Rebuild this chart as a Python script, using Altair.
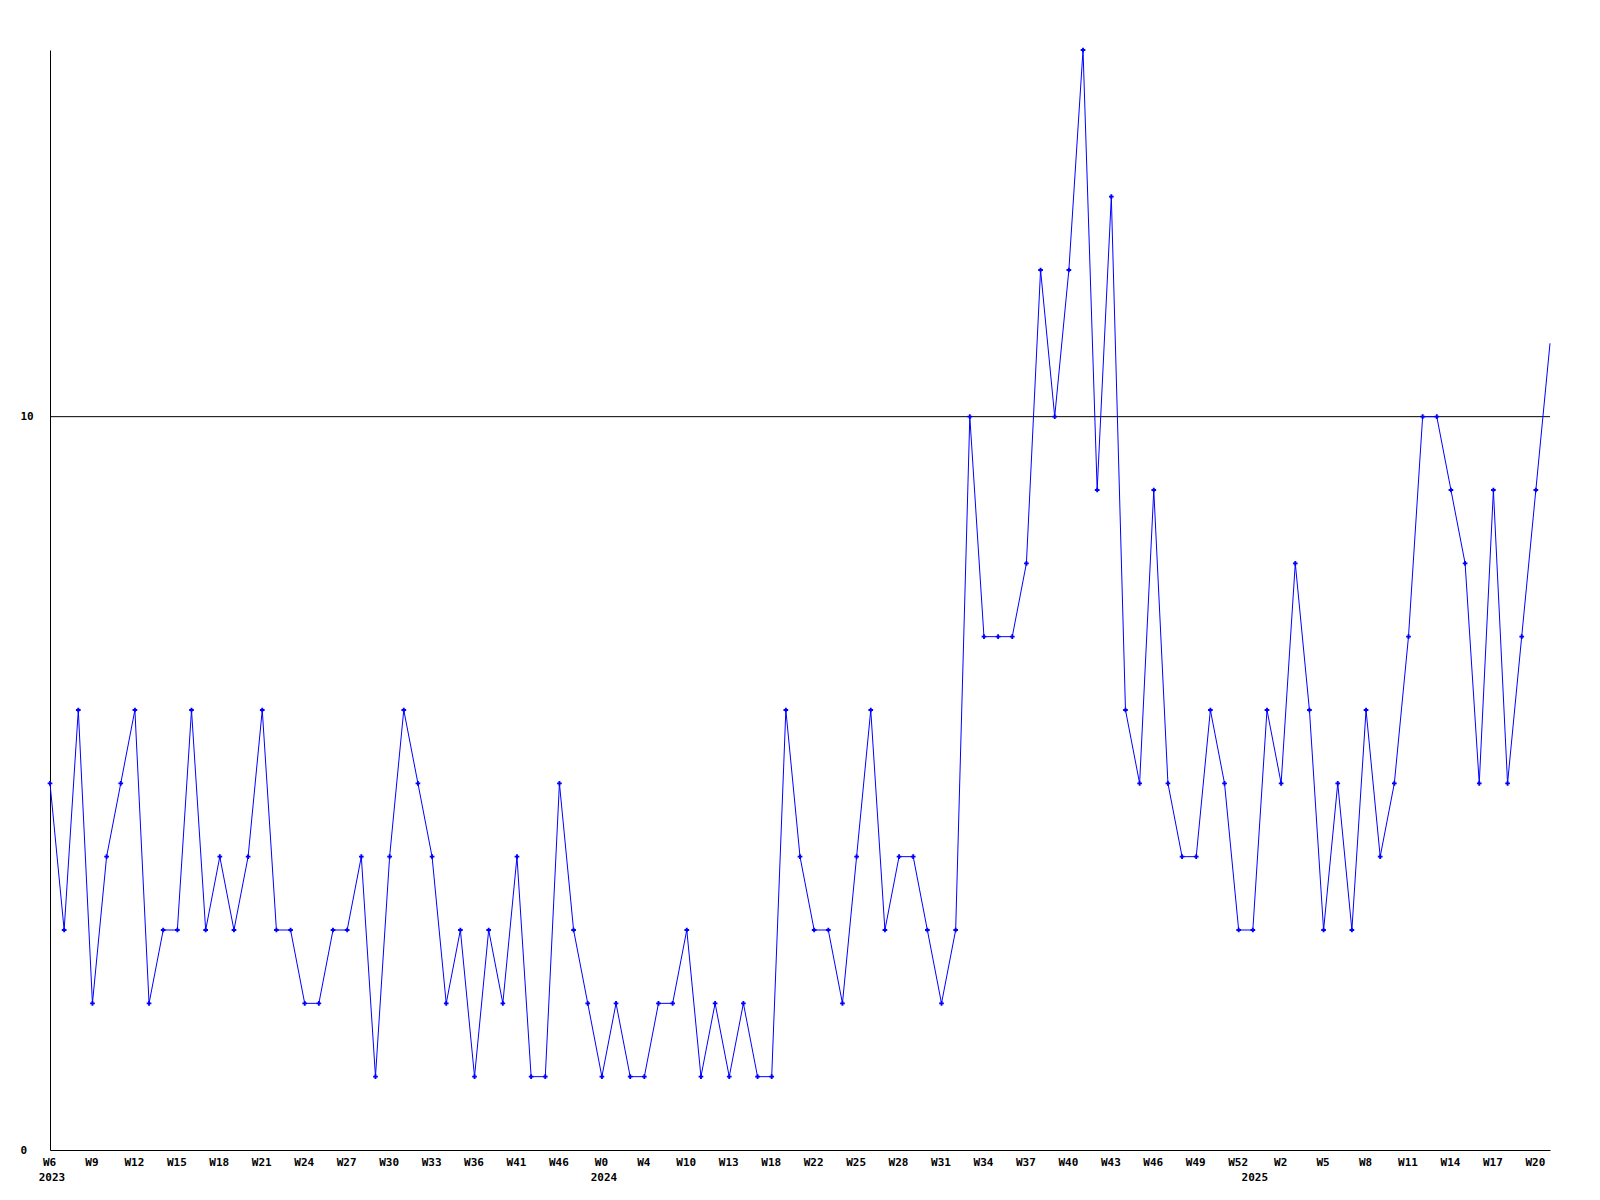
import altair as alt
import pandas as pd

# weekly values, one per point (107 points)
values = [5, 3, 6, 2, 4, 5, 6, 2, 3, 3, 6, 3, 4, 3, 4, 6, 3, 3, 2, 2,
          3, 3, 4, 1, 4, 6, 5, 4, 2, 3, 1, 3, 2, 4, 1, 1, 5, 3, 2, 1,
          2, 1, 1, 2, 2, 3, 1, 2, 1, 2, 1, 1, 6, 4, 3, 3, 2, 4, 6, 3,
          4, 4, 3, 2, 3, 10, 7, 7, 7, 8, 12, 10, 12, 15, 9, 13, 6, 5, 9, 5,
          4, 4, 6, 5, 3, 3, 6, 5, 8, 6, 3, 5, 3, 6, 4, 5, 7, 10, 10, 9,
          8, 5, 9, 5, 7, 9, 11]

# tick labels, one for every third point
tick_labels = ["W6", "W9", "W12", "W15", "W18", "W21", "W24", "W27", "W30", "W33",
               "W36", "W41", "W46", "W0", "W4", "W10", "W13", "W18", "W22", "W25",
               "W28", "W31", "W34", "W37", "W40", "W43", "W46", "W49", "W52", "W2",
               "W5", "W8", "W11", "W14", "W17", "W20"]
tick_step = 3

# year labels and the point index they sit under
years = ["2023", "2024", "2025"]
year_idx = [0, 39, 85]

threshold = 10

df = pd.DataFrame({"idx": list(range(len(values))), "value": values})
df_years = pd.DataFrame({"idx": year_idx, "year": years})

FONT = "DejaVu Sans Mono"
n = len(values) - 1

xscale = alt.Scale(domain=[0, n], nice=False, zero=False)
yscale = alt.Scale(domain=[0, 15], nice=False)

label_arr = "[" + ",".join("'%s'" % t for t in tick_labels) + "]"

x_axis = alt.Axis(
    values=[i * tick_step for i in range(len(tick_labels))],
    labelExpr=label_arr + "[round(datum.value/%d)]" % tick_step,
    ticks=False, tickSize=0, grid=False, title=None,
    domainColor="black", domainWidth=1,
    labelFont=FONT, labelFontWeight="bold", labelFontSize=11, labelColor="black",
    labelPadding=6, labelAngle=0, labelAlign="center", labelOverlap=False,
    labelFlush=False, labelOffset=-1,
)
y_axis = alt.Axis(
    values=[0, threshold], format="d", ticks=False, tickSize=0, grid=False, title=None,
    domainColor="black", domainWidth=1,
    labelFont=FONT, labelFontWeight="bold", labelFontSize=11, labelColor="black",
    labelAlign="left", labelPadding=30, labelBaseline="middle",
)

base = alt.Chart(df)

line = base.mark_line(color="#0000ff", strokeWidth=1).encode(
    x=alt.X("idx:Q", scale=xscale, axis=x_axis),
    y=alt.Y("value:Q", scale=yscale, axis=y_axis),
)

points = base.transform_filter(alt.datum.idx < n).mark_point(
    shape="cross", filled=True, size=22, color="#0000ff", opacity=1
).encode(
    x=alt.X("idx:Q", scale=xscale),
    y=alt.Y("value:Q", scale=yscale),
)

rule = alt.Chart(pd.DataFrame({"t": [threshold]})).mark_rule(
    color="black", strokeWidth=1
).encode(y=alt.Y("t:Q", scale=yscale))

year_text = alt.Chart(df_years).mark_text(
    font=FONT, fontWeight="bold", fontSize=11, color="black",
    align="center", baseline="top", dx=2,
).encode(
    x=alt.X("idx:Q", scale=xscale),
    y=alt.value(1100 + 22),
    text="year:N",
)

chart = alt.layer(rule, line, points, year_text).properties(
    width=1500, height=1100,
    autosize=alt.AutoSizeParams(type="none"),
    padding={"left": 42, "top": 42, "right": 10, "bottom": 50},
).configure(background="white").configure_view(strokeWidth=0, stroke="transparent")

chart.save("out.html", embed_options={"renderer": "svg", "actions": False})
